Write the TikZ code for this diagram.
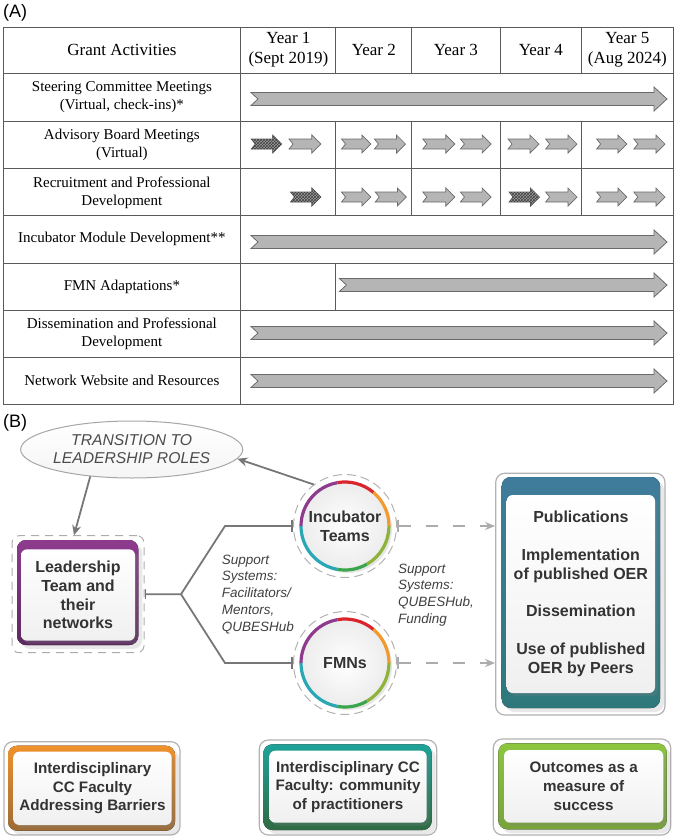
\documentclass[tikz,border=0pt]{standalone}
\usepackage{fontspec}
\setmainfont{Liberation Serif}
\newfontfamily\arialf{Liberation Sans}
\usetikzlibrary{arrows.meta,patterns,shadows,shapes.geometric,calc}

\definecolor{tline}{HTML}{5A5A5A}
\definecolor{arrfill}{HTML}{B5B5B5}
\definecolor{arrdraw}{HTML}{6A6A6A}
\definecolor{connc}{HTML}{777777}
\definecolor{txtd}{HTML}{333333}
\definecolor{purp}{HTML}{8E3B8E}
\definecolor{purpd}{HTML}{5C2A5E}
\definecolor{oran}{HTML}{F0922C}
\definecolor{orand}{HTML}{9C6B35}
\definecolor{tealg}{HTML}{1FA39A}
\definecolor{tealgd}{HTML}{2F6A42}
\definecolor{lgreen}{HTML}{8DC63F}
\definecolor{lgreend}{HTML}{77A33A}
\definecolor{blueb}{HTML}{3F7C9C}
\definecolor{bluebd}{HTML}{2E787A}
\definecolor{rpurple}{HTML}{8E3B8E}
\definecolor{rred}{HTML}{D9262E}
\definecolor{rorange}{HTML}{F29A2E}
\definecolor{rolive}{HTML}{8DB33A}
\definecolor{rgreen}{HTML}{3AA54A}
\definecolor{rteal}{HTML}{2AA7B5}

\tikzset{
  bigarrst/.style={fill=arrfill, draw=arrdraw, line width=0.8pt},
  smarrst/.style={fill=arrfill, draw=arrdraw, line width=0.7pt},
  hatchst/.style={fill=black!38, draw=black!65, line width=0.7pt,
    postaction={pattern=crosshatch, pattern color=black!75}},
  tcell/.style={font=\fontsize{15}{18}\selectfont, align=center, text=black, inner sep=0pt},
  hcell/.style={font=\fontsize{17}{20}\selectfont, align=center, text=black, inner sep=0pt},
  outerbox/.style={draw=gray!60, line width=1.2pt, rounded corners=9pt, fill=white, inner sep=0pt},
  panel/.style={rounded corners=6pt, top color=white, bottom color=gray!12, text=txtd,
    font=\arialf\bfseries\fontsize{16}{18.7}\selectfont, align=center, inner sep=0pt,
    drop shadow={shadow xshift=3pt, shadow yshift=-3pt, opacity=0.25}},
  smallpanel/.style={panel, font=\arialf\bfseries\fontsize{15.2}{18.6}\selectfont},
  colshadow/.style={drop shadow={shadow xshift=4pt, shadow yshift=-4pt, opacity=0.18}},
  connl/.style={draw=connc, line width=1.8pt},
  dconn/.style={draw=gray!65, line width=2pt, dash pattern=on 12pt off 15pt},
  dring/.style={circle, draw=gray!60, line width=1pt, dash pattern=on 9pt off 5pt, inner sep=0pt},
  ballst/.style={circle, inner sep=0pt, inner color=white, outer color=gray!15, text=txtd,
    font=\arialf\bfseries\fontsize{16}{18.7}\selectfont, align=center,
    drop shadow={shadow xshift=3pt, shadow yshift=-3pt, opacity=0.2}},
  suptxt/.style={font=\arialf\itshape\fontsize{13.5}{16.8}\selectfont, text=black!75, align=left, inner sep=0pt},
}

\newcommand\bigarr[3]{\draw[bigarrst] (#1,#3-6.5) -- (#2-13,#3-6.5) -- (#2-13,#3-12) -- (#2,#3) -- (#2-13,#3+12) -- (#2-13,#3+6.5) -- (#1,#3+6.5) -- (#1+7,#3) -- cycle;}
\newcommand\smarr[4][smarrst]{\draw[#1] (#2,#4-5) -- (#3-9,#4-5) -- (#3-9,#4-9) -- (#3,#4) -- (#3-9,#4+9) -- (#3-9,#4+5) -- (#2,#4+5) -- (#2+4,#4) -- cycle;}
\newcommand\ringarcs[1]{%
  \foreach \a/\b/\c in {0/50/rorange,50/100/rred,100/180/rpurple,180/260/rteal,260/300/rgreen,300/360/rolive}{
    \draw[line width=3.2pt,\c] (#1.center) ++(\a:44pt) arc[start angle=\a, end angle=\b, radius=44pt];}}

\begin{document}
\begin{tikzpicture}[x=1pt,y=-1pt]
\useasboundingbox (0,0) rectangle (676,839);

% ---------------- (A) table ----------------
\node[font=\arialf\fontsize{18}{20}\selectfont, anchor=west, inner sep=0pt] (labA) at (3,13) {(A)};

\draw[tline, line width=0.9pt] (3,27) rectangle (673,404);
\foreach \yy in {73,121,168,215,263,310,357}{\draw[tline, line width=0.9pt] (3,\yy) -- (673,\yy);}
\draw[tline, line width=0.9pt] (240.8,27) -- (240.8,404);
\foreach \xx in {335.9,411.6,500.2,581.5}{
  \draw[tline, line width=0.9pt] (\xx,27) -- (\xx,73);
  \draw[tline, line width=0.9pt] (\xx,121) -- (\xx,215);}
\draw[tline, line width=0.9pt] (335.9,263) -- (335.9,310);

\node[hcell] (h0) at (121.9,50) {Grant Activities};
\node[hcell] (h1) at (288.4,50) {Year 1\\(Sept 2019)};
\node[hcell] (h2) at (373.8,50) {Year 2};
\node[hcell] (h3) at (455.9,50) {Year 3};
\node[hcell] (h4) at (540.9,50) {Year 4};
\node[hcell] (h5) at (627.3,50) {Year 5\\(Aug 2024)};

\node[tcell] (r1) at (121.9,97.5) {Steering Committee Meetings\\(Virtual, check-ins)*};
\node[tcell] (r2) at (121.9,144.5) {Advisory Board Meetings\\(Virtual)};
\node[tcell] (r3) at (121.9,192.5) {Recruitment and Professional\\Development};
\node[tcell] (r4) at (121.9,239) {Incubator Module Development**};
\node[tcell] (r5) at (121.9,286.5) {FMN Adaptations*};
\node[tcell] (r6) at (121.9,334) {Dissemination and Professional\\Development};
\node[tcell] (r7) at (121.9,380.5) {Network Website and Resources};

\bigarr{251}{667}{99}
\bigarr{251}{667}{242}
\bigarr{339.4}{667}{285}
\bigarr{251}{667}{333}
\bigarr{251}{667}{381}

\smarr[hatchst]{251.3}{281.6}{144}
\smarr{289}{320.8}{144}
\smarr{341.5}{370.9}{144}
\smarr{374.4}{405.5}{144}
\smarr{422.8}{454.8}{144}
\smarr{460.4}{491.1}{144}
\smarr{508}{539}{144}
\smarr{545.6}{577}{144}
\smarr{596.6}{626.9}{144}
\smarr{633.8}{665}{144}

\smarr[hatchst]{290.5}{320.8}{197}
\smarr{341.5}{370.9}{197}
\smarr{375.2}{406.4}{197}
\smarr{422.8}{454.8}{197}
\smarr{460.4}{491.1}{197}
\smarr[hatchst]{509}{539.5}{197}
\smarr{545.6}{577}{197}
\smarr{596.6}{626.9}{197}
\smarr{633.8}{665}{197}

% ---------------- (B) ----------------
\node[font=\arialf\fontsize{18}{20}\selectfont, anchor=west, inner sep=0pt] (labB) at (3,423) {(B)};

\node[ellipse, draw=gray!70, line width=1pt, minimum width=211pt, minimum height=57pt,
  top color=white, bottom color=gray!8, inner sep=0pt, align=center,
  font=\arialf\itshape\fontsize{15.7}{18}\selectfont, text=black!70] (ell) at (131.7,449.5)
  {TRANSITION TO\\LEADERSHIP ROLES};

% leadership
\node[draw=gray!65, line width=1pt, dash pattern=on 8pt off 6pt, rounded corners=7pt,
  minimum width=132pt, minimum height=117pt, inner sep=0pt] (Ld) at (78,594.2) {};
\fill[rounded corners=9pt, top color=purp, bottom color=purpd, colshadow] (17,540) rectangle (138.3,645);
\node[panel, minimum width=114pt, minimum height=91.4pt] (L) at (78,595)
  {Leadership\\Team and\\their\\networks};

% circles
\node[dring, minimum size=103pt] (incd) at (345,526) {};
\node[ballst, minimum size=88pt] (inc) at (345,526) {Incubator\\Teams};
\ringarcs{inc}
\node[dring, minimum size=103pt] (fmnd) at (345,663) {};
\node[ballst, minimum size=88pt] (fmn) at (345,663) {FMNs};
\ringarcs{fmn}

% right box
\node[outerbox, minimum width=169.3pt, minimum height=241.7pt] (R) at (580.35,594.15) {};
\fill[rounded corners=9pt, top color=blueb, bottom color=bluebd, colshadow] (501.7,477) rectangle (660,708);
\node[panel, minimum width=148.3pt, minimum height=198pt] (Rp) at (580.85,594)
  {Publications\\[19pt]Implementation\\of published OER\\[19pt]Dissemination\\[19pt]Use of published\\OER by Peers};

% bottom boxes
\node[outerbox, minimum width=176pt, minimum height=93.3pt] (B1o) at (92,788.35) {};
\fill[rounded corners=9pt, top color=oran, bottom color=orand, colshadow] (8,745.7) rectangle (175,830.7);
\node[smallpanel, minimum width=158.4pt, minimum height=73.3pt] (B1) at (92.5,788.35)
  {Interdisciplinary\\CC Faculty\\Addressing Barriers};

\node[outerbox, minimum width=177.4pt, minimum height=95pt] (B2o) at (348,787.5) {};
\fill[rounded corners=9pt, top color=tealg, bottom color=tealgd, colshadow] (263.3,744.3) rectangle (431.7,830);
\node[smallpanel, minimum width=157.4pt, minimum height=72pt] (B2) at (348,786.7)
  {Interdisciplinary CC\\Faculty: community\\of practitioners};

\node[outerbox, minimum width=177.4pt, minimum height=96pt] (B3o) at (582,787) {};
\fill[rounded corners=9pt, top color=lgreen, bottom color=lgreend, colshadow] (498.3,743.3) rectangle (666.7,829.3);
\node[smallpanel, minimum width=159.3pt, minimum height=72.7pt] (B3) at (583.65,786.35)
  {Outcomes as a\\measure of\\success};

% connectors
\coordinate (j) at (181,594.2);
\coordinate (jt) at (225,526);
\coordinate (jb) at (225,663);
\draw[connl, {Bar[width=10pt]}-{Bar[width=12pt]}] (Ld.east) -- (j) -- (jt) -- (incd.west);
\draw[connl, -{Bar[width=12pt]}] (j) -- (jb) -- (fmnd.west);

\draw[dconn, {Bar[width=12pt]}-{Stealth[length=10pt,width=8pt]}] (incd.east) -- (incd.east -| R.west);
\draw[dconn, {Bar[width=12pt]}-{Stealth[length=10pt,width=8pt]}] (fmnd.east) -- (fmnd.east -| R.west);

\draw[connl, -{Stealth[length=10pt,width=9pt]}] (incd.127) -- (ell.-5);
\draw[connl, -{Stealth[length=10pt,width=9pt]}] (ell.213) -- ([xshift=-4pt]Ld.north);

\node[suptxt, anchor=west] (s1) at (221.7,594.3) {Support\\Systems:\\Facilitators/\\Mentors,\\QUBESHub};
\node[suptxt, anchor=west] (s2) at (398,595) {Support\\Systems:\\QUBESHub,\\Funding};
\end{tikzpicture}
\end{document}
